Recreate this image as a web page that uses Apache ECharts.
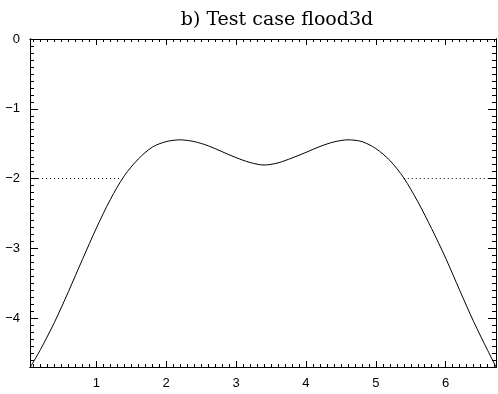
<!DOCTYPE html>
<html>
<head>
<meta charset="utf-8">
<script src="https://cdn.jsdelivr.net/npm/echarts@6/dist/echarts.min.js"></script>
<style>
  html, body { margin: 0; padding: 0; background: #fff; }
  #chart { width: 498px; height: 394px; }
</style>
</head>
<body>
<div id="chart"></div>
<script>
// Bed profile along the channel (x) and its height (y)
const profileX = [0.05, 0.2, 0.4, 0.6, 0.8, 1.0, 1.2, 1.4, 1.6, 1.8, 2.0, 2.2, 2.4, 2.6, 2.8, 3.0, 3.2, 3.4,
                  3.6, 3.8, 4.0, 4.2, 4.4, 4.6, 4.8, 5.0, 5.2, 5.4, 5.6, 5.8, 6.0, 6.2, 6.4, 6.6, 6.72];
const profileY = [-4.71, -4.45, -4.06, -3.62, -3.16, -2.71, -2.30, -1.96, -1.72, -1.55, -1.47, -1.445, -1.47, -1.53, -1.615, -1.70, -1.77, -1.806,
                  -1.775, -1.705, -1.625, -1.54, -1.475, -1.445, -1.47, -1.57, -1.74, -1.99, -2.33, -2.72, -3.14, -3.60, -4.05, -4.46, -4.70];

// Water level, drawn where it lies above the bed
const waterLevel = -2;
const waterLeftX = [0.05, 1.38];
const waterRightX = [5.40, 6.72];

// Axis ranges and labelled ticks
const xRange = [0.05, 6.72];
const yRange = [-4.7, 0];
const xMajorTicks = [1, 2, 3, 4, 5, 6];
const yMajorTicks = [-4, -3, -2, -1, 0];
const minorStep = 0.1;

const titleText = 'b) Test case flood3d';

function minorTicks(range, majors) {
  const out = [];
  const start = Math.ceil(range[0] / minorStep - 1e-9);
  const end = Math.floor(range[1] / minorStep + 1e-9);
  for (let i = start; i <= end; i++) {
    const v = Math.round(i * minorStep * 10) / 10;
    if (majors.indexOf(v) < 0) out.push(v);
  }
  return out;
}

function fmt(v) {
  const r = Math.round(v);
  return r < 0 ? '\u2212' + (-r) : String(Math.abs(r));
}

const labelStyle = {
  fontFamily: 'Liberation Sans, Arial, sans-serif',
  fontSize: 13,
  color: '#000'
};

function axis(position, ticks, len, showLabel, range) {
  return {
    type: 'value',
    position: position,
    min: range[0],
    max: range[1],
    splitLine: { show: false },
    axisLine: { show: true, onZero: false, lineStyle: { color: '#000', width: 1 } },
    axisTick: { show: true, inside: true, length: len, customValues: ticks, lineStyle: { color: '#000', width: 1 } },
    axisLabel: showLabel
      ? Object.assign({ show: true, customValues: ticks, margin: 10, formatter: fmt }, labelStyle)
      : { show: false }
  };
}

const xMinor = minorTicks(xRange, xMajorTicks);
const yMinor = minorTicks(yRange, yMajorTicks);

const chart = echarts.init(document.getElementById('chart'), null, { renderer: 'canvas' });

chart.setOption({
  animation: false,
  backgroundColor: '#fff',
  title: {
    text: titleText,
    left: 272,
    top: 6,
    textAlign: 'center',
    textStyle: { fontFamily: 'DejaVu Serif, serif', fontSize: 19, fontWeight: 'normal', color: '#000' }
  },
  grid: { left: 30, top: 39, width: 466, height: 328, containLabel: false },
  xAxis: [
    axis('bottom', xMajorTicks, 6, true, xRange),
    axis('bottom', xMinor, 3, false, xRange),
    axis('top', xMajorTicks, 6, false, xRange),
    axis('top', xMinor, 3, false, xRange)
  ],
  yAxis: [
    axis('left', yMajorTicks, 8, true, yRange),
    axis('left', yMinor, 4, false, yRange),
    axis('right', yMajorTicks, 8, false, yRange),
    axis('right', yMinor, 4, false, yRange)
  ],
  series: [
    {
      type: 'line',
      data: profileX.map((x, i) => [x, profileY[i]]),
      smooth: 0.3,
      symbol: 'none',
      lineStyle: { color: '#000', width: 1 },
      clip: true
    },
    {
      type: 'line',
      data: waterLeftX.map(x => [x, waterLevel]),
      symbol: 'none',
      lineStyle: { color: '#000', width: 1, type: [1, 3] }
    },
    {
      type: 'line',
      data: waterRightX.map(x => [x, waterLevel]),
      symbol: 'none',
      lineStyle: { color: '#000', width: 1, type: [1, 3] }
    }
  ]
});
</script>
</body>
</html>
